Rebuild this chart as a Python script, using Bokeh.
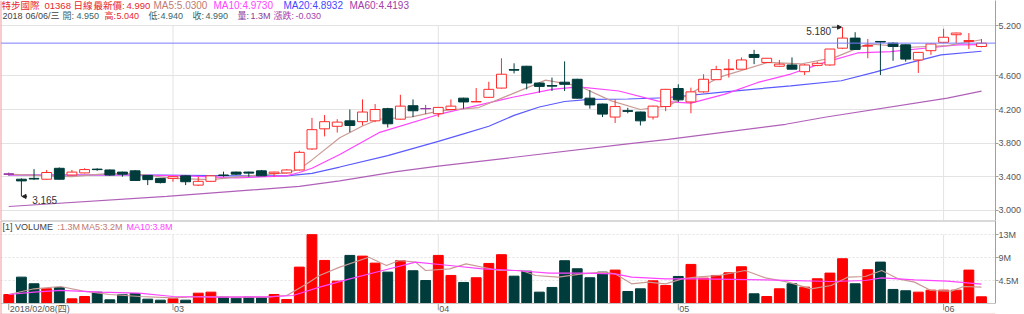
from bokeh.plotting import figure
from bokeh.models import (Range1d, FixedTicker, Span, Label, NumeralTickFormatter,
                          Arrow, NormalHead, ColumnDataSource)
from bokeh.layouts import column
from bokeh.embed import file_html
from bokeh.resources import INLINE
from bokeh.core.properties import value

# ---------------- data ----------------
stock_name = "特步國際"
stock_code = "01368"
period = "日線"
last_year = "2018"
last_day = "06/06/三"
month_idx = [0, 13, 34, 53, 74]
month_labels = ["2018/02/08(四)", "03", "04", "05", "06"]
price_ticks = [3.0, 3.4, 3.8, 4.2, 4.6, 5.2]
vol_ticks = [4.5, 9.0, 13.5]
vol_tick_labels = ["4.5M", "9M", "13M"]

opens = [3.430, 3.37, 3.38, 3.37, 3.50, 3.42, 3.445, 3.49, 3.48, 3.455,
         3.47, 3.415, 3.38, 3.38, 3.41, 3.30, 3.345, 3.42, 3.455, 3.455,
         3.47, 3.44, 3.445, 3.48, 3.73, 3.97, 4.00, 4.065, 4.055, 4.065,
         4.21, 4.085, 4.245, 4.212, 4.15, 4.20, 4.335, 4.29, 4.345, 4.455,
         4.675, 4.715, 4.515, 4.485, 4.525, 4.56, 4.335, 4.265, 4.11, 4.185,
         4.17, 4.11, 4.235, 4.45, 4.29, 4.41, 4.555, 4.675, 4.68, 4.855,
         4.76, 4.715, 4.73, 4.65, 4.725, 4.73, 4.93, 5.05, 4.955, 5.01,
         4.99, 4.97, 4.79, 4.90, 5.00, 5.09, 5.01, 4.95]
highs = [3.45, 3.38, 3.49, 3.48, 3.51, 3.48, 3.50, 3.50, 3.485, 3.46,
         3.48, 3.42, 3.385, 3.41, 3.42, 3.40, 3.42, 3.46, 3.46, 3.46,
         3.48, 3.46, 3.49, 3.71, 4.10, 4.135, 4.085, 4.20, 4.32, 4.265,
         4.22, 4.375, 4.32, 4.255, 4.23, 4.32, 4.34, 4.455, 4.53, 4.81,
         4.75, 4.72, 4.52, 4.58, 4.773, 4.565, 4.43, 4.27, 4.32, 4.22,
         4.175, 4.245, 4.445, 4.50, 4.46, 4.62, 4.72, 4.80, 4.82, 4.91,
         4.81, 4.79, 4.82, 4.74, 4.77, 4.92, 5.18, 5.12, 5.04, 5.01,
         5.00, 4.975, 4.885, 4.99, 5.16, 5.115, 5.11, 5.04]
lows = [3.41, 3.165, 3.36, 3.365, 3.365, 3.415, 3.44, 3.47, 3.41, 3.40,
        3.35, 3.30, 3.32, 3.34, 3.30, 3.29, 3.34, 3.40, 3.42, 3.40,
        3.41, 3.40, 3.44, 3.47, 3.72, 3.88, 3.925, 3.93, 4.01, 4.05,
        3.985, 4.08, 4.11, 4.145, 4.11, 4.195, 4.21, 4.29, 4.34, 4.45,
        4.63, 4.44, 4.40, 4.42, 4.42, 4.33, 4.21, 4.11, 4.04, 4.155,
        4.01, 4.08, 4.18, 4.29, 4.155, 4.40, 4.55, 4.58, 4.68, 4.74,
        4.76, 4.705, 4.68, 4.61, 4.715, 4.72, 4.92, 4.91, 4.81, 4.61,
        4.78, 4.77, 4.635, 4.85, 4.99, 4.99, 4.92, 4.94]
closes = [3.432, 3.35, 3.375, 3.45, 3.37, 3.455, 3.485, 3.485, 3.42, 3.43,
          3.355, 3.365, 3.33, 3.40, 3.34, 3.345, 3.41, 3.415, 3.43, 3.445,
          3.41, 3.455, 3.48, 3.69, 3.96, 4.055, 4.05, 4.01, 4.17, 4.20,
          4.03, 4.24, 4.185, 4.21, 4.225, 4.24, 4.29, 4.295, 4.44, 4.62,
          4.67, 4.515, 4.475, 4.48, 4.50, 4.335, 4.255, 4.145, 4.235, 4.18,
          4.065, 4.24, 4.44, 4.315, 4.41, 4.56, 4.675, 4.68, 4.79, 4.82,
          4.81, 4.74, 4.68, 4.73, 4.75, 4.92, 5.05, 4.915, 4.96, 5.005,
          4.95, 4.80, 4.88, 4.98, 5.06, 5.11, 5.02, 4.99]
volumes = [1.76, 5.16, 3.86, 2.88, 3.08, 0.92, 1.37, 2.22, 0.72, 1.70,
           1.96, 0.85, 0.65, 0.92, 0.65, 2.02, 2.22, 1.24, 1.04, 1.24,
           1.18, 1.76, 0.78, 7.12, 13.47, 8.43, 4.37, 9.41, 9.27, 7.90,
           6.14, 8.37, 6.41, 4.50, 9.41, 5.49, 4.12, 5.04, 7.84, 9.55,
           5.35, 6.33, 2.22, 3.14, 8.37, 6.80, 5.04, 6.14, 6.54, 2.35,
           2.88, 4.44, 3.53, 5.29, 7.65, 4.96, 5.49, 6.01, 7.19, 1.90,
           1.37, 2.88, 3.86, 3.20, 4.84, 5.95, 8.76, 3.86, 6.60, 8.10,
           2.75, 2.49, 2.22, 2.61, 2.61, 2.61, 6.54, 1.31]

# moving-average lines, read at points along each curve (candle index, value)
ma5_x = [0, 3, 5, 8, 10, 13, 16, 19, 22, 23, 24, 26.2, 28, 29.3, 31.9, 34.1, 37.2,
         39.8, 42.5, 45.1, 47.7, 50, 52.2, 56.2, 60.1, 62.7, 65.4, 68, 71.4, 74.3, 77]
ma5_y = [3.43, 3.41, 3.40, 3.44, 3.435, 3.38, 3.365, 3.41, 3.445, 3.49, 3.60, 3.864,
         4.004, 4.084, 4.112, 4.183, 4.223, 4.383, 4.55, 4.482, 4.303, 4.20, 4.243,
         4.582, 4.761, 4.742, 4.821, 4.981, 4.941, 4.96, 5.03]
ma10_x = [0, 5, 10, 14, 18, 22, 23, 24, 26.2, 29.3, 34.1, 39.8, 43, 45.1, 48.3, 51.4,
          54, 56.7, 59.3, 61.9, 64.6, 67.2, 69.8, 72.5, 75.1, 77]
ma10_y = [3.42, 3.42, 3.42, 3.41, 3.385, 3.41, 3.45, 3.50, 3.665, 3.924, 4.144, 4.343,
          4.44, 4.47, 4.42, 4.30, 4.275, 4.383, 4.522, 4.622, 4.761, 4.873, 4.889,
          4.929, 4.969, 4.973]
ma20_x = [0, 6, 12, 18, 22, 24, 26.2, 30, 34, 36, 38, 40, 42, 44, 46, 49, 52, 56.7,
          61.9, 65.9, 68.5, 71.2, 73.8, 77]
ma20_y = [3.42, 3.42, 3.42, 3.41, 3.41, 3.44, 3.515, 3.65, 3.82, 3.91, 4.00, 4.13,
          4.23, 4.295, 4.32, 4.325, 4.34, 4.41, 4.482, 4.542, 4.642, 4.753, 4.85, 4.8932]
ma60_x = [0, 12.5, 23, 26.2, 30.7, 34, 49, 52.2, 61.5, 64.6, 74.3, 77]
ma60_y = [3.045, 3.165, 3.285, 3.35, 3.46, 3.525, 3.79, 3.844, 4.024, 4.108, 4.335, 4.4193]

vma5_x = [0, 2, 4.1, 5.9, 8, 10.4, 13, 15.1, 17.7, 20.4, 22, 23.6, 24.6, 26.2, 28.5,
          29.9, 30.9, 32.2, 33, 34.9, 36.2, 38.8, 40.6, 41.7, 43.5, 45.4, 47, 48,
          49.3, 50.6, 52, 53.3, 54.6, 56.2, 58.3, 59.9, 61.7, 63.5, 65.1, 66.4, 67.8,
          69.1, 70.4, 71.7, 73, 74.6, 75.6, 77]
vma5_y = [1.76, 2.88, 3.33, 2.41, 1.76, 1.37, 1.12, 1.37, 1.24, 1.24, 1.57, 3.86,
          5.49, 7.12, 9.06, 7.44, 8.41, 8.09, 6.46, 6.79, 7.76, 6.46, 6.46, 5.48,
          5.15, 5.81, 6.13, 5.81, 3.85, 4.18, 3.85, 4.83, 5.20, 5.48, 6.46, 5.02,
          4.18, 2.87, 3.52, 5.15, 5.28, 6.46, 4.83, 4.18, 2.54, 2.41, 3.33, 3.2]
vma10_x = [0, 2, 4.1, 7.2, 10.3, 13, 16.4, 20.4, 22.5, 24.6, 27, 29.6, 32.2, 34.9,
           37.5, 40.1, 42.8, 45.4, 48, 49.3, 52, 54.6, 59.9, 65.1, 67.8, 69.1, 71.7,
           74.3, 77]
vma10_y = [1.76, 2.22, 2.55, 2.22, 2.02, 1.37, 1.24, 1.30, 1.57, 3.20, 4.83, 6.46,
           8.09, 7.44, 6.79, 6.46, 5.94, 5.94, 5.81, 5.15, 4.83, 4.83, 4.63, 4.31,
           4.50, 5.02, 4.63, 4.37, 3.8]

# ---------------- styling ----------------
UP = "#ff2b2b"
UP_BAR = "#ff0000"
DOWN = "#003c3c"
DOJI = "#9b3aa6"
MA5_C = "#c99a94"
MA10_C = "#ff44ff"
MA20_C = "#5a5aff"
MA60_C = "#b060b8"
GRID = "#e3e3e3"
AXIS = "#a0a0a0"
TXT = "#555555"
RED_T = "#e8262a"
TEAL_T = "#3c6464"
PURP_T = "#8a3a9a"
ROSY_T = "#c07a72"
FONT = "Liberation Sans, Noto Sans CJK TC"

n = len(closes)
idx = list(range(n))
XL, XR = -0.655, 78.11
P_SCALE = 84.0
P_TOP = 5.2 + 25 / P_SCALE
P_BOT = 5.2 - 195 / P_SCALE
V_SCALE = 5.11
V_TOP = 83 / V_SCALE
V_BOT = -(94 - 83) / V_SCALE


def kind(o, c):
    if abs(c - o) < 0.003:
        return "doji"
    return "up" if c > o else "down"


kinds = [kind(o, c) for o, c in zip(opens, closes)]
col = [{"up": UP, "down": DOWN, "doji": DOJI}[k] for k in kinds]
fill = [{"up": "white", "down": DOWN, "doji": DOJI}[k] for k in kinds]
vcol = [UP_BAR if c >= o else DOWN for o, c in zip(opens, closes)]

src = ColumnDataSource(dict(
    x=idx, o=opens, h=highs, l=lows, c=closes,
    top=[max(o, c) for o, c in zip(opens, closes)],
    bot=[min(o, c) for o, c in zip(opens, closes)],
    col=col, fill=fill, vol=volumes, vcol=vcol))

# ---------------- price panel ----------------
p = figure(width=1024, height=220, x_range=Range1d(XL, XR), y_range=Range1d(P_BOT, P_TOP),
           output_backend="svg", toolbar_location=None, y_axis_location="right",
           x_axis_location=None, min_border_left=0, min_border_right=26,
           min_border_top=0, min_border_bottom=0)
p.outline_line_color = None
ptick = FixedTicker(ticks=price_ticks)
ax = p.yaxis[0]
ax.ticker = ptick
ax.formatter = NumeralTickFormatter(format="0.000")
ax.major_label_text_font_size = "9px"
ax.major_label_text_font = "Liberation Sans"
ax.major_label_text_color = TXT
ax.major_label_standoff = 0
ax.major_tick_out = 3
ax.major_tick_in = 0
ax.minor_tick_out = 0
ax.minor_tick_in = 0
ax.axis_line_color = AXIS
ax.major_tick_line_color = AXIS
p.ygrid.ticker = ptick
p.ygrid.grid_line_color = GRID
p.xgrid.visible = False

mi = month_idx[1:]
p.segment(x0=mi, x1=mi, y0=[P_BOT] * len(mi), y1=[max(price_ticks)] * len(mi),
          line_color=GRID, line_width=1)

p.line(ma60_x, ma60_y, line_color=MA60_C, line_width=1.2)
p.line(ma20_x, ma20_y, line_color=MA20_C, line_width=1.2)
p.line(ma10_x, ma10_y, line_color=MA10_C, line_width=1.2)
p.line(ma5_x, ma5_y, line_color=MA5_C, line_width=1.2)

p.segment(x0="x", x1="x", y0="h", y1="l", line_color="col", line_width=1, source=src)
p.vbar(x="x", width=0.78, top="top", bottom="bot", fill_color="fill", line_color="col",
       line_width=1, source=src)
flat = [i for i in idx if (max(opens[i], closes[i]) - min(opens[i], closes[i])) * P_SCALE < 1.2]
p.segment(x0=[i - 0.39 for i in flat], x1=[i + 0.39 for i in flat],
          y0=[closes[i] for i in flat], y1=[closes[i] for i in flat],
          line_color=[col[i] for i in flat], line_width=1)

last = closes[-1]
p.add_layout(Span(location=last, dimension="width", line_color="#7b7bff", line_width=1))
p.add_layout(Span(location=XL, dimension="height", line_color="#f29a9a", line_width=2))

# extreme markers
i_hi = max(idx, key=lambda i: highs[i])
i_lo = min(idx, key=lambda i: lows[i])
p.add_layout(Arrow(end=NormalHead(size=4, fill_color="#222222", line_color="#222222"),
                   x_start=i_hi - 0.85, y_start=highs[i_hi], x_end=i_hi - 0.08,
                   y_end=highs[i_hi], line_color="#222222", line_width=1))
p.add_layout(Label(x=i_hi - 0.9, y=highs[i_hi], text=f"{highs[i_hi]:.3f}", text_align="right",
                   text_baseline="top", text_font_size="10px", text_font=FONT,
                   text_color="#333333"))
p.add_layout(Arrow(end=NormalHead(size=4, fill_color="#222222", line_color="#222222"),
                   x_start=i_lo + 0.45, y_start=lows[i_lo], x_end=i_lo + 0.05,
                   y_end=lows[i_lo], line_color="#222222", line_width=1))
p.add_layout(Label(x=i_lo + 0.85, y=lows[i_lo], text=f"{lows[i_lo]:.3f}", text_align="left",
                   text_baseline="top", text_font_size="10px", text_font=FONT,
                   text_color="#333333"))

# last price box on the axis
p.add_layout(Label(x=999, x_units="screen", y=last, text=f"{last:.3f}", text_align="left",
                   text_baseline="bottom", text_font_size="9px", text_font="Liberation Sans",
                   text_color="white", background_fill_color="#7f7fbf"))

# header
chg = closes[-1] - closes[-2]


def hdr(fig, x, yv, text, color, size="9.5px"):
    fig.add_layout(Label(x=x, x_units="screen", y=yv, text=text, text_font_size=size,
                         text_font=FONT, text_color=color, text_baseline="middle"))


y1 = P_TOP - 5 / P_SCALE
y2 = P_TOP - 15.5 / P_SCALE
line1a = [(stock_name, 1, RED_T), (stock_code, 44, RED_T), (period, 73, RED_T),
          ("最新價:", 93, RED_T), (f"{last:.3f}", 126, RED_T)]
line1b = [(f"MA5:{ma5_y[-1]:.4f}", 153, ROSY_T), (f"MA10:{ma10_y[-1]:.4f}", 213, MA10_C),
          (f"MA20:{ma20_y[-1]:.4f}", 283, "#4646ff"), (f"MA60:{ma60_y[-1]:.4f}", 349, "#a040a8")]
line2 = [(last_year, 2, "#444444"), (last_day, 25, "#444444"),
         ("開:", 62, TEAL_T), (f"{opens[-1]:.3f}", 76, TEAL_T),
         ("高:", 104, RED_T), (f"{highs[-1]:.3f}", 116, RED_T),
         ("低:", 148, TEAL_T), (f"{lows[-1]:.3f}", 160, TEAL_T),
         ("收:", 192, TEAL_T), (f"{closes[-1]:.3f}", 205, TEAL_T),
         ("量:", 237, PURP_T), (f"{volumes[-1]:.1f}M", 250, PURP_T),
         ("漲跌:", 273, "#a040b0"), (f"{chg:.3f}", 295, "#a040b0")]
for t, x, c in line1a:
    hdr(p, x, y1, t, c, "9.5px")
for t, x, c in line1b:
    hdr(p, x, y1, t, c, "10px")
for t, x, c in line2:
    hdr(p, x, y2, t, c, "9px")

# ---------------- volume panel ----------------
v = figure(width=1024, height=94, x_range=p.x_range, y_range=Range1d(V_BOT, V_TOP),
           output_backend="svg", toolbar_location=None, y_axis_location="right",
           x_axis_location=None, min_border_left=0, min_border_right=26,
           min_border_top=0, min_border_bottom=0)
v.outline_line_color = None
vtick = FixedTicker(ticks=vol_ticks)
vax = v.yaxis[0]
vax.ticker = vtick
vax.major_label_overrides = {t: s for t, s in zip(vol_ticks, vol_tick_labels)}
vax.major_label_text_font_size = "9px"
vax.major_label_text_font = "Liberation Sans"
vax.major_label_text_color = TXT
vax.major_label_standoff = 0
vax.major_tick_out = 3
vax.major_tick_in = 0
vax.minor_tick_out = 0
vax.minor_tick_in = 0
vax.axis_line_color = AXIS
vax.major_tick_line_color = AXIS
vax.bounds = (0, V_TOP)
v.ygrid.ticker = vtick
v.ygrid.grid_line_color = GRID
v.ygrid.grid_line_dash = "2 2"
v.xgrid.visible = False

v.segment(x0=mi, x1=mi, y0=[0] * len(mi), y1=[max(vol_ticks)] * len(mi),
          line_color=GRID, line_width=1)
v.vbar(x="x", width=0.78, top="vol", bottom=0, fill_color="vcol", line_color="vcol",
       source=src)
v.line(vma5_x, vma5_y, line_color=MA5_C, line_width=1.2)
v.line(vma10_x, vma10_y, line_color=MA10_C, line_width=1.2)

v.add_layout(Span(location=0, dimension="width", line_color="#c4c4c4", line_width=1))
v.add_layout(Span(location=V_TOP, dimension="width", line_color="#b4b4b4", line_width=2))
v.add_layout(Span(location=V_BOT, dimension="width", line_color="#f6c0c0", line_width=2))
v.add_layout(Span(location=XL, dimension="height", line_color="#f29a9a", line_width=2))

v.segment(x0=month_idx, x1=month_idx, y0=[0] * len(month_idx),
          y1=[-1.3] * len(month_idx), line_color="#999999")
v.text(x=month_idx, y=[-1.05] * len(month_idx), text=month_labels, text_align="left",
       text_baseline="middle", x_offset=1, text_font_size="9px", text_font=value(FONT),
       text_color=TXT)

yv = V_TOP - 6 / V_SCALE
hdr(v, 2, yv, "[1] VOLUME", "#444444", "9px")
hdr(v, 57, yv, f":{volumes[-1]:.1f}M", ROSY_T, "9px")
hdr(v, 81, yv, f"MA5:{vma5_y[-1]:.1f}M", ROSY_T, "9px")
hdr(v, 126, yv, f"MA10:{vma10_y[-1]:.1f}M", MA10_C, "9px")

layout = column(p, v, spacing=0)
open("out.html", "w").write(file_html(layout, INLINE))
